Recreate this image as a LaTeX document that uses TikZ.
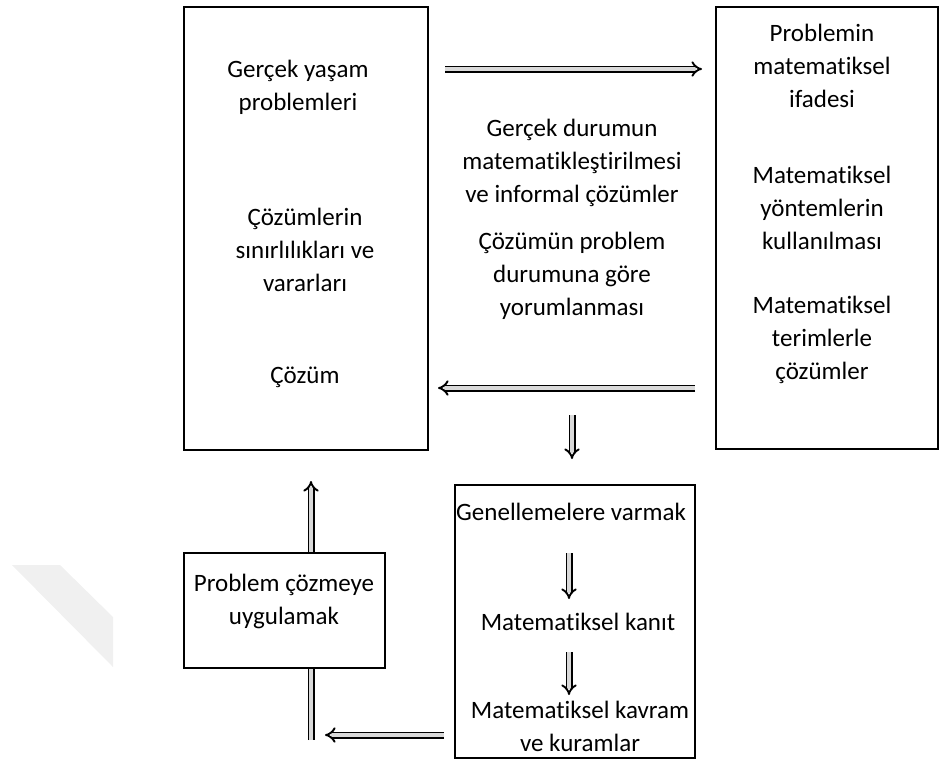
\documentclass[tikz,border=0pt]{standalone}
\usepackage{fontspec}
\setmainfont{Carlito}[Ligatures={NoCommon}]
\usetikzlibrary{arrows.meta}
\begin{document}
\begin{tikzpicture}[x=1pt,y=-1pt,
  frame/.style={draw=black,line width=2pt,fill=white},
  txt/.style={align=center,inner sep=0pt,font=\fontsize{25}{33}\selectfont},
  hollow/.style={draw=black,line width=1.9pt,double=gray!30,double distance=3.2pt,-{Implies}}]
\useasboundingbox (0,0) rectangle (952,764);
% faint band at the lower left
\fill[gray!12] (12,565) -- (60,565) -- (113,617) -- (113,667) -- cycle;

% connector end points
\coordinate (tA) at (445,69);   \coordinate (tB) at (702,69);
\coordinate (mA) at (695,388);  \coordinate (mB) at (438,388);
\coordinate (dA) at (572,415);  \coordinate (dB) at (572,459);
\coordinate (uA) at (311,740);  \coordinate (uB) at (311,481);
\coordinate (bA) at (444,735);  \coordinate (bB) at (325,735);
\coordinate (k1A) at (569,553); \coordinate (k1B) at (569,599);
\coordinate (k2A) at (569,652); \coordinate (k2B) at (569,695);

% arrows first, so the boxes cover them where they cross
\draw[hollow] (uA) -- (uB);

% boxes
\draw[frame] (184,7) rectangle (428,450) node[pos=0.5] (left) {};
\draw[frame] (716,7) rectangle (938,449) node[pos=0.5] (right) {};
\draw[frame] (184,553) rectangle (385,668) node[pos=0.5] (apply) {};
\draw[frame] (455,485) rectangle (695,758) node[pos=0.5] (gen) {};

\draw[hollow] (tA) -- (tB);
\draw[hollow] (mA) -- (mB);
\draw[hollow] (dA) -- (dB);
\draw[hollow] (bA) -- (bB);
\draw[hollow] (k1A) -- (k1B);
\draw[hollow] (k2A) -- (k2B);

% left box texts
\node[txt] (l1) at (298,87) {Gerçek yaşam\\problemleri};
\node[txt] (l2) at (305,250) {Çözümlerin\\sınırlılıkları ve\\vararları};
\node[txt] (l3) at (305,377) {Çözüm};

% middle texts
\node[txt] (c1) at (572,163) {Gerçek durumun\\matematikleştirilmesi\\ve informal çözümler};
\node[txt] (c2) at (572,276) {Çözümün problem\\durumuna göre\\yorumlanması};

% right box texts
\node[txt] (r1) at (822,66) {Problemin\\matematiksel\\ifadesi};
\node[txt] (r2) at (822,208) {Matematiksel\\yöntemlerin\\kullanılması};
\node[txt] (r3) at (822,340) {Matematiksel\\terimlerle\\çözümler};

% lower boxes texts
\node[txt] (a1) at (284,601) {Problem çözmeye\\uygulamak};
\node[txt,anchor=west] (g1) at (456,512) {Genellemelere varmak};
\node[txt] (g2) at (578,622) {Matematiksel kanıt};
\node[txt] (g3) at (580,726) {Matematiksel kavram\\ve kuramlar};
\end{tikzpicture}
\end{document}
